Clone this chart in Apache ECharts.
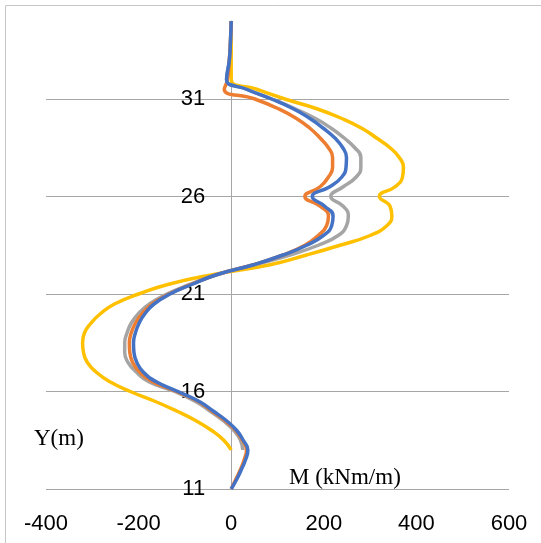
<!DOCTYPE html>
<html>
<head>
<meta charset="utf-8">
<script src="https://cdn.jsdelivr.net/npm/echarts@6/dist/echarts.min.js"></script>
<style>html,body{margin:0;padding:0;background:#fff;}#c{width:541px;height:543px;}</style>
</head>
<body>
<div id="c"></div>
<script>
// Depth levels Y (m)
const depthY = [35,34,33,32,31.5,31,30.5,30,29.5,29,28.5,28,27.5,27,26.5,26,25.5,25,24.5,24,23.5,23,22.5,22,21.5,21,20.5,20,19.5,19,18.5,18,17.5,17,16.5,16,15.5,15,14.5,14,13.5,13,12.5,12,11.5,11];
// Bending moment M (kNm/m) for each series
const blueM   = [0,-1.5,-4,-10,33,87,134,170,199,224,241,249,248,239,213,175,202,220,217,199,163,112,48,-30,-84,-132,-166,-186,-199,-207,-211,-210,-204,-190,-162,-115,-70,-39,-10,12,26,36,31,22,12,0];
const orangeM = [0,-1.5,-4,-8,-15,51,102,141,170,192,210,219,219,210,192,159,192,210,206,188,159,112,48,-30,-86,-134,-170,-192,-207,-216,-220,-219,-213,-198,-170,-118,-72,-42,-13,10,24,33,28,20,10,0];
const grayM   = [0,-1.5,-4,-10,33,88,138,182,216,244,267,280,280,270,242,215,242,253,249,231,188,127,50,-30,-88,-139,-176,-200,-216,-225,-230,-230,-223,-205,-178,-122,-78,-46,-17,6,20,25,null,null,null,null];
const yellowM = [0,0,0,0,55,116,185,239,282,314,343,363,372,370,354,320,343,347,336,300,235,163,84,-38,-135,-200,-251,-282,-303,-317,-321,-319,-311,-292,-262,-218,-165,-118,-76,-42,-16,0,null,null,null,null];
// Axis ticks
const yTicks = [11,16,21,26,31];
const xTicks = [-400,-200,0,200,400,600];

function pairs(m){ const out=[]; for(let i=0;i<depthY.length;i++){ if(m[i]!==null) out.push([m[i], depthY[i]]); } return out; }

const chart = echarts.init(document.getElementById('c'), null, {renderer:'canvas'});
const lbl = {fontFamily:'Liberation Sans', fontSize:22, color:'#000'};
const gridLeft = 46, gridRight = 32;
const plotW = 541 - gridLeft - gridRight;
const zeroOffset = plotW * (0 - xTicks[0]) / (xTicks[xTicks.length-1] - xTicks[0]);
function mk(name, m, color){
  return {name, type:'line', data:pairs(m), smooth:0.5, showSymbol:false, symbol:'none',
    lineStyle:{color, width:3.5}, itemStyle:{color}, animation:false};
}
chart.setOption({
  animation:false,
  grid:{left:gridLeft, right:gridRight, top:21, bottom:54, containLabel:false},
  xAxis:{type:'value', min:xTicks[0], max:xTicks[xTicks.length-1], interval:200,
    axisLine:{show:false}, axisTick:{show:false}, splitLine:{show:false},
    axisLabel:Object.assign({margin:24}, lbl)},
  yAxis:{type:'value', min:11, max:35, interval:5, position:'left', offset:-zeroOffset,
    axisLine:{show:true, onZero:false, lineStyle:{color:'#a6a6a6', width:1}},
    axisTick:{show:false, customValues:yTicks},
    splitLine:{show:true, lineStyle:{color:'#a6a6a6', width:1}},
    axisLabel:Object.assign({margin:26, customValues:yTicks}, lbl)},
  graphic:[
    {type:'rect', shape:{x:5.5, y:5.5, width:600, height:600}, style:{fill:null, stroke:'#c6c6c6', lineWidth:1}, silent:true, z:-10},
    {type:'text', left:34, top:427, style:{text:'Y(m)', font:'23px "Liberation Serif"', fill:'#000'}},
    {type:'text', left:289, top:466, style:{text:'M (kNm/m)', font:'23px "Liberation Serif"', fill:'#000'}}
  ],
  series:[
    mk('S4', yellowM, '#FFC000'),
    mk('S3', grayM, '#A5A5A5'),
    mk('S2', orangeM, '#ED7D31'),
    mk('S1', blueM, '#4472C4')
  ]
});
</script>
</body>
</html>
